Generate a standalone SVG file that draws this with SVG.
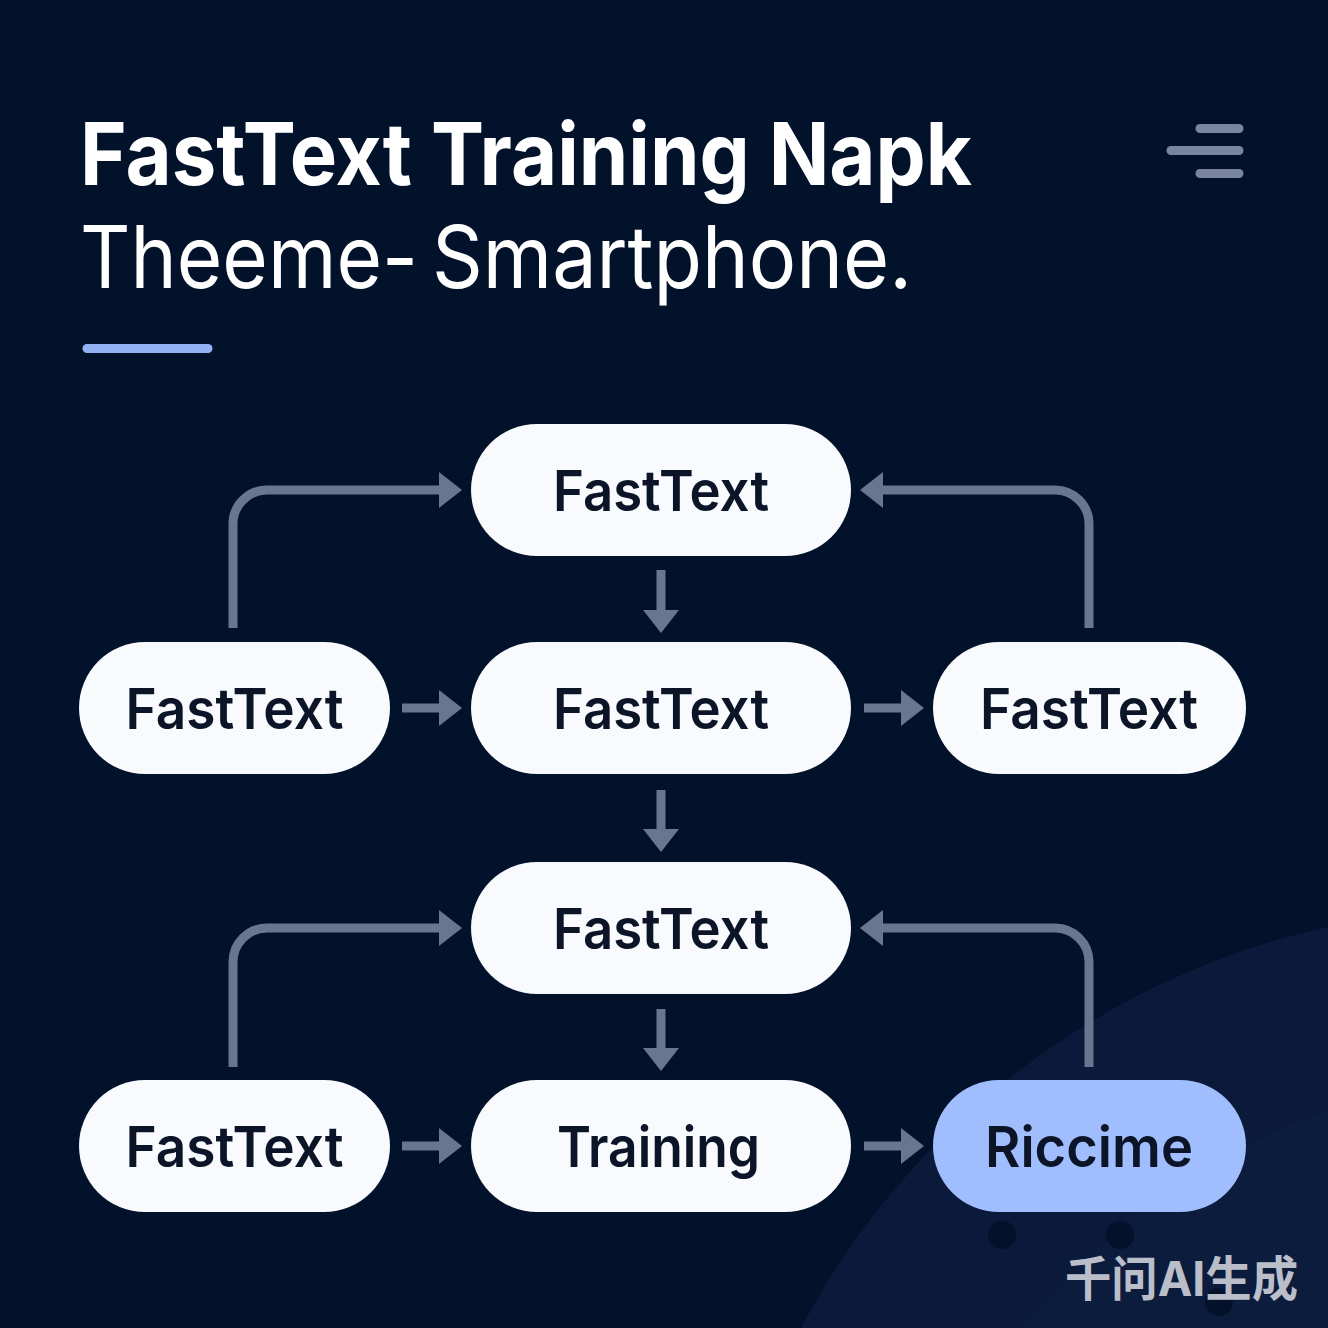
<svg xmlns="http://www.w3.org/2000/svg" width="1328" height="1328" viewBox="0 0 1328 1328">
  <defs>
    <style>
      .node rect { fill: #f8fafd; }
      .node.accent rect { fill: #a0bdfd; }
      .node text { font-family: Inter, "Liberation Sans", sans-serif; font-weight: 600; font-size: 56px; fill: #0c1528; text-anchor: middle; }
      .conn { fill: none; stroke: #68778f; stroke-width: 9; }
      .menu { stroke: #7a869e; stroke-width: 9; stroke-linecap: round; }
      .title { font-family: Inter, "Liberation Sans", sans-serif; fill: #ffffff; }
    </style>
    <marker id="ah" markerUnits="userSpaceOnUse" markerWidth="24" markerHeight="38" refX="0" refY="18" orient="auto">
      <path d="M0,0 L23,18 L0,36 Z" fill="#68778f"/>
    </marker>
  </defs>

  <rect width="1328" height="1328" fill="#03122b"/>
  <circle cx="1500" cy="1700" r="792" fill="#0b1a3b"/>
  <circle cx="1560" cy="1760" r="690" fill="#0d1d40" opacity="0.5"/>
  <g fill="#04112a">
    <circle cx="1002" cy="1235" r="14"/>
    <circle cx="1120" cy="1235" r="14"/>
    <circle cx="1219" cy="1302" r="14"/>
  </g>

  <g id="title">
    <text class="title" x="80" y="185" font-size="87" font-weight="700" textLength="892" lengthAdjust="spacingAndGlyphs">FastText Training Napk</text>
    <text class="title" x="80" y="288" font-size="86" font-weight="400" textLength="338" lengthAdjust="spacingAndGlyphs">Theeme-</text>
    <text class="title" x="432" y="288" font-size="86" font-weight="400" textLength="480" lengthAdjust="spacingAndGlyphs">Smartphone.</text>
    <line x1="87" y1="348.5" x2="208" y2="348.5" stroke="#94b1f5" stroke-width="9" stroke-linecap="round"/>
  </g>

  <g id="menu-icon">
    <line class="menu" x1="1200" y1="128.5" x2="1239" y2="128.5"/>
    <line class="menu" x1="1171" y1="150.5" x2="1239" y2="150.5"/>
    <line class="menu" x1="1200" y1="173.5" x2="1239" y2="173.5"/>
  </g>

  <g id="connectors">
    <path class="conn" d="M233,628 V524 A34,34 0 0 1 267,490 H439" marker-end="url(#ah)"/>
    <path class="conn" d="M1089,628 V524 A34,34 0 0 0 1055,490 H883" marker-end="url(#ah)"/>
    <path class="conn" d="M661,570 V610" marker-end="url(#ah)"/>
    <path class="conn" d="M402,708 H439" marker-end="url(#ah)"/>
    <path class="conn" d="M864,708 H901" marker-end="url(#ah)"/>
    <path class="conn" d="M661,790 V829" marker-end="url(#ah)"/>
    <path class="conn" d="M233,1067 V962 A34,34 0 0 1 267,928 H439" marker-end="url(#ah)"/>
    <path class="conn" d="M1089,1067 V962 A34,34 0 0 0 1055,928 H883" marker-end="url(#ah)"/>
    <path class="conn" d="M661,1009 V1048" marker-end="url(#ah)"/>
    <path class="conn" d="M402,1146 H439" marker-end="url(#ah)"/>
    <path class="conn" d="M864,1146 H901" marker-end="url(#ah)"/>
  </g>

  <g id="node-top" class="node">
    <rect x="471" y="424" width="380" height="132" rx="66"/>
    <text x="661" y="511" textLength="216" lengthAdjust="spacingAndGlyphs">FastText</text>
  </g>
  <g id="node-left-2" class="node">
    <rect x="79" y="642" width="311" height="132" rx="66"/>
    <text x="234.5" y="729" textLength="218" lengthAdjust="spacingAndGlyphs">FastText</text>
  </g>
  <g id="node-mid-2" class="node">
    <rect x="471" y="642" width="380" height="132" rx="66"/>
    <text x="661" y="729" textLength="216" lengthAdjust="spacingAndGlyphs">FastText</text>
  </g>
  <g id="node-right-2" class="node">
    <rect x="933" y="642" width="313" height="132" rx="66"/>
    <text x="1089" y="729" textLength="218" lengthAdjust="spacingAndGlyphs">FastText</text>
  </g>
  <g id="node-mid-3" class="node">
    <rect x="471" y="862" width="380" height="132" rx="66"/>
    <text x="661" y="949" textLength="216" lengthAdjust="spacingAndGlyphs">FastText</text>
  </g>
  <g id="node-left-4" class="node">
    <rect x="79" y="1080" width="311" height="132" rx="66"/>
    <text x="234.5" y="1167" textLength="218" lengthAdjust="spacingAndGlyphs">FastText</text>
  </g>
  <g id="node-mid-4" class="node">
    <rect x="471" y="1080" width="380" height="132" rx="66"/>
    <text x="658.5" y="1167" textLength="203" lengthAdjust="spacingAndGlyphs">Training</text>
  </g>
  <g id="node-right-4" class="node accent">
    <rect x="933" y="1080" width="313" height="132" rx="66"/>
    <text x="1089" y="1167" textLength="208" lengthAdjust="spacingAndGlyphs">Riccime</text>
  </g>

  <text x="1298" y="1296" text-anchor="end" font-family="Inter, 'Noto Sans CJK SC', sans-serif" font-weight="700" font-size="48" fill="#b9bec9" textLength="233" lengthAdjust="spacingAndGlyphs">千问AI生成</text>
</svg>
